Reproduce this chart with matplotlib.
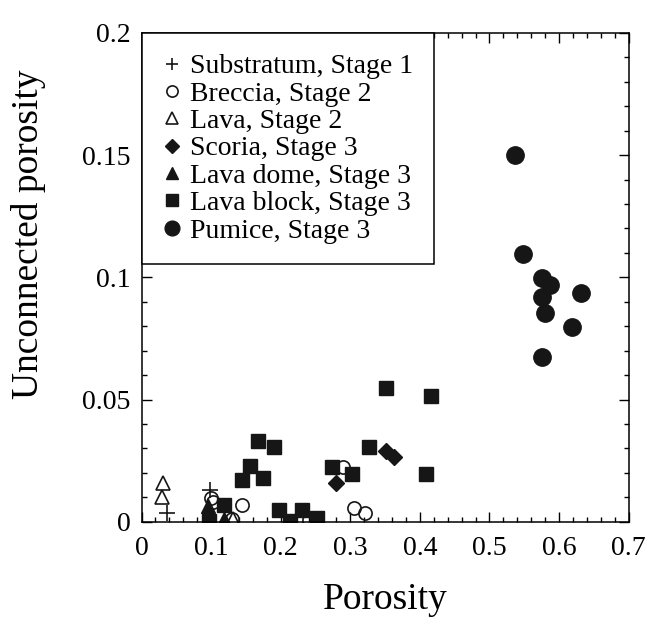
import matplotlib
matplotlib.use('Agg')
import matplotlib.pyplot as plt
from matplotlib.ticker import MultipleLocator, FuncFormatter

plt.rcParams['font.family'] = ['Liberation Serif', 'DejaVu Serif']

# datos
substratum_x = [0.036, 0.099]
substratum_y = [0.0034, 0.0128]

breccia_x = [0.100, 0.103, 0.144, 0.130, 0.240, 0.290, 0.305, 0.321]
breccia_y = [0.0095, 0.0080, 0.0070, 0.0010, 0.0005, 0.0225, 0.0055, 0.0034]

lava2_x = [0.031, 0.030, 0.132]
lava2_y = [0.0157, 0.0102, 0.0010]

scoria_x = [0.2795, 0.351, 0.363]
scoria_y = [0.0157, 0.0290, 0.0264]

dome_x = [0.096, 0.118]
dome_y = [0.0064, 0.0012]

block_x = [0.097, 0.119, 0.145, 0.156, 0.175, 0.168, 0.190, 0.198, 0.213,
           0.231, 0.252, 0.273, 0.303, 0.327, 0.352, 0.409, 0.4155]
block_y = [0.0003, 0.0068, 0.0171, 0.0228, 0.0178, 0.0330, 0.0305, 0.0048, 0.0003,
           0.0048, 0.0016, 0.0225, 0.0195, 0.0305, 0.0546, 0.0195, 0.0515]

pumice_x = [0.537, 0.548, 0.575, 0.587, 0.575, 0.631, 0.580, 0.618, 0.575]
pumice_y = [0.150, 0.1096, 0.0996, 0.0969, 0.0918, 0.0937, 0.0853, 0.0796, 0.0673]

labels = ['Substratum, Stage 1', 'Breccia, Stage 2', 'Lava, Stage 2',
          'Scoria, Stage 3', 'Lava dome, Stage 3', 'Lava block, Stage 3',
          'Pumice, Stage 3']

ink = '#161616'

fig = plt.figure(figsize=(6.45, 6.21), dpi=100)
ax = fig.add_axes([0.2194, 0.1599, 0.7553, 0.787])

ax.plot(substratum_x, substratum_y, ls='none', marker='+', ms=11, mew=1.2,
        color=ink, label=labels[0])
ax.plot(breccia_x, breccia_y, ls='none', marker='o', ms=9.5, mew=1.2,
        mfc='none', mec=ink, label=labels[1])
ax.plot(lava2_x, lava2_y, ls='none', marker='^', ms=10, mew=1.2,
        mfc='none', mec=ink, label=labels[2])
ax.plot(scoria_x, scoria_y, ls='none', marker='D', ms=8.5, color=ink,
        label=labels[3])
ax.plot(dome_x, dome_y, ls='none', marker='^', ms=10.5, color=ink,
        label=labels[4])
ax.plot(block_x, block_y, ls='none', marker='s', ms=10.5, color=ink,
        label=labels[5])
ax.plot(pumice_x, pumice_y, ls='none', marker='o', ms=12.5, color=ink,
        label=labels[6])

ax.set_xlim(0, 0.7)
ax.set_ylim(0, 0.2)
ax.xaxis.set_major_locator(MultipleLocator(0.1))
ax.xaxis.set_minor_locator(MultipleLocator(0.02))
ax.yaxis.set_major_locator(MultipleLocator(0.05))
ax.yaxis.set_minor_locator(MultipleLocator(0.01))
fmt = FuncFormatter(lambda v, p: '%g' % round(v, 3))
ax.xaxis.set_major_formatter(fmt)
ax.yaxis.set_major_formatter(fmt)

ax.tick_params(which='both', direction='in', top=True, right=True,
               width=1.0, labelsize=20)
ax.tick_params(which='major', length=7)
ax.tick_params(which='minor', length=3.6)
ax.tick_params(axis='x', pad=10)
ax.tick_params(axis='y', pad=8)
for s in ax.spines.values():
    s.set_linewidth(1.1)

ax.set_xlabel('Porosity', fontsize=27, labelpad=16)
# en la figura original la etiqueta Y esta desplazada hacia arriba
ax.set_ylabel('Unconnected porosity', fontsize=27, labelpad=26, y=0.589)

leg = ax.legend(loc='upper left', bbox_to_anchor=(0, 1), borderaxespad=0,
                fontsize=20, frameon=True, fancybox=False, framealpha=1,
                edgecolor='black', handlelength=0.72, handletextpad=0.29,
                labelspacing=0.07, borderpad=0.75, markerscale=0.85,
                numpoints=1)
leg.get_frame().set_linewidth(1.1)

plt.savefig('out.png', dpi=100)
